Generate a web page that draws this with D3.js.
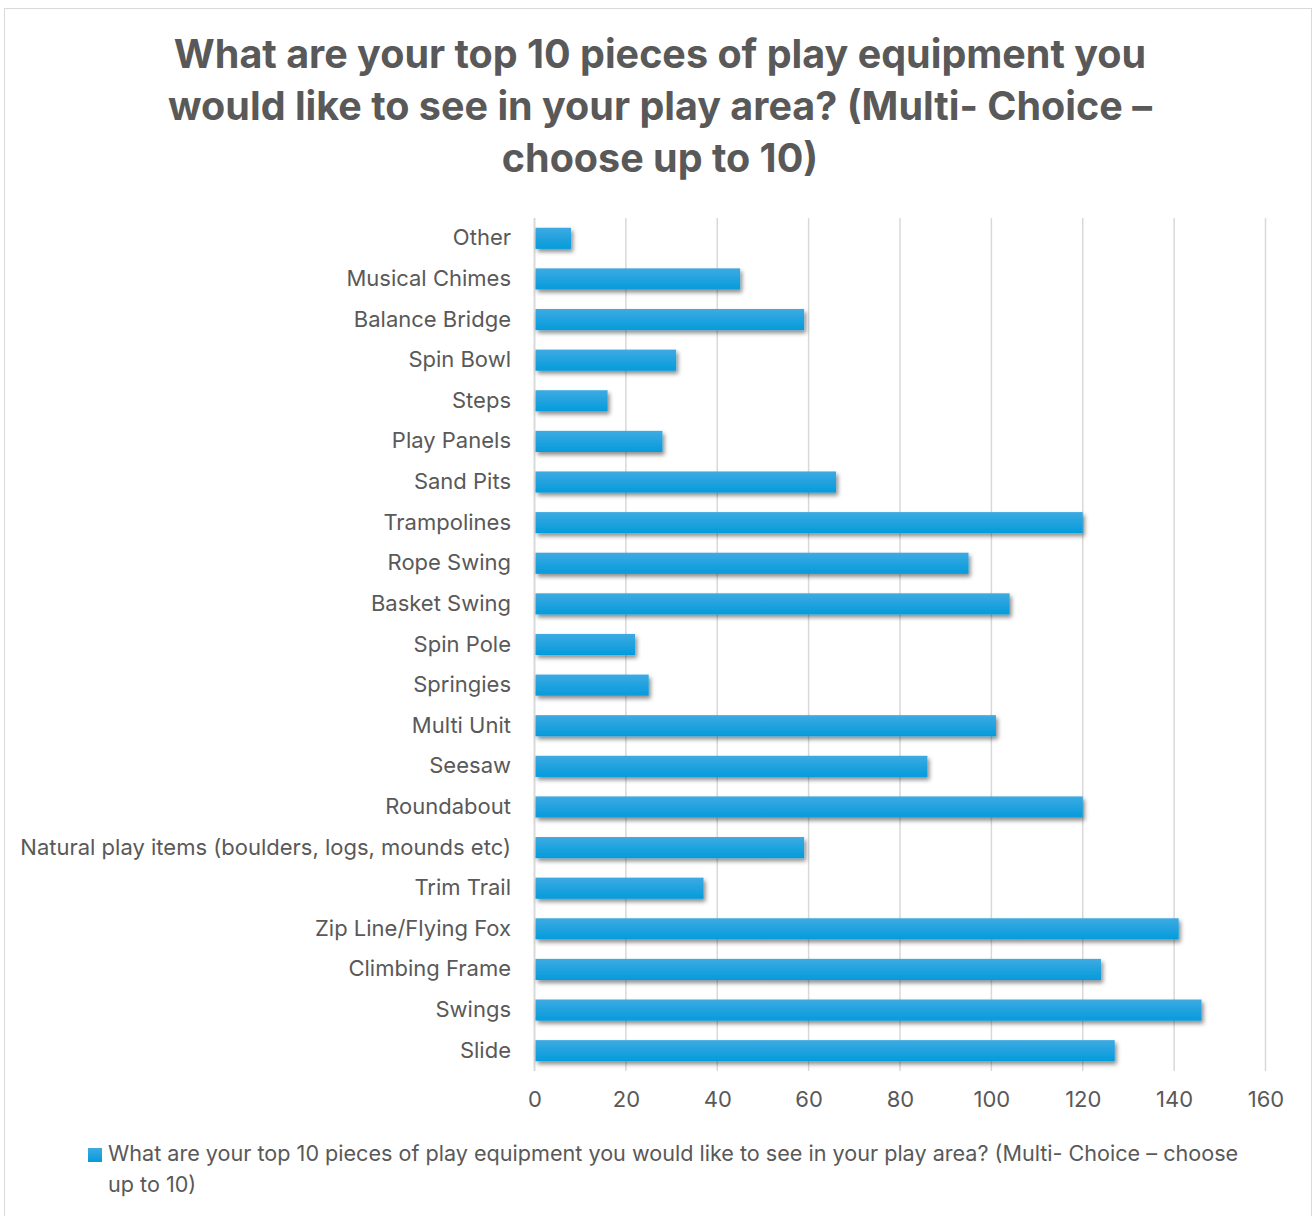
<!DOCTYPE html>
<html><head><meta charset="utf-8">
<script src="https://cdn.jsdelivr.net/npm/d3@7"></script>
<style>body{margin:0;background:#fff;} svg{display:block;}</style>
</head><body>
<svg id="c" width="1314" height="1216"></svg>
<script>
const categories = ["Other","Musical Chimes","Balance Bridge","Spin Bowl","Steps","Play Panels","Sand Pits","Trampolines","Rope Swing","Basket Swing","Spin Pole","Springies","Multi Unit","Seesaw","Roundabout","Natural play items (boulders, logs, mounds etc)","Trim Trail","Zip Line/Flying Fox","Climbing Frame","Swings","Slide"];
const values = [8,45,59,31,16,28,66,120,95,104,22,25,101,86,120,59,37,141,124,146,127];
const xTicks = [0,20,40,60,80,100,120,140,160];
const titleLines = ["What are your top 10 pieces of play equipment you","would like to see in your play area? (Multi- Choice \u2013","choose up to 10)"];
const legendLines = ["What are your top 10 pieces of play equipment you would like to see in your play area? (Multi- Choice \u2013 choose","up to 10)"];

const font = "Inter, 'Open Sans', sans-serif";
const svg = d3.select("#c");
const defs = svg.append("defs");
const g1 = defs.append("linearGradient").attr("id","bg").attr("x1",0).attr("y1",0).attr("x2",0).attr("y2",1);
g1.append("stop").attr("offset","0%").attr("stop-color","#3eaae2");
g1.append("stop").attr("offset","100%").attr("stop-color","#049bdb");
const f = defs.append("filter").attr("id","sh").attr("x","-10%").attr("y","-50%").attr("width","130%").attr("height","250%");
f.append("feDropShadow").attr("dx",2).attr("dy",3).attr("stdDeviation",2.2).attr("flood-color","#000").attr("flood-opacity",0.45);

svg.append("rect").attr("x",4.5).attr("y",8.5).attr("width",1307).attr("height",1215).attr("fill","#fff").attr("stroke","#d9d9d9");

const x = d3.scaleLinear().domain([0,160]).range([534.5,1265.5]);
const y = d3.scaleBand().domain(categories).range([218,1071]).paddingInner(0.48).paddingOuter(0.24);

svg.append("g").selectAll("line").data(xTicks).join("line")
  .attr("x1",d=>x(d)).attr("x2",d=>x(d)).attr("y1",218).attr("y2",1071)
  .attr("stroke","#d9d9d9").attr("stroke-width",d=>d===0?2:1.5);

svg.append("g").selectAll("rect").data(values).join("rect")
  .attr("x",x(0)+1).attr("y",(d,i)=>y(categories[i]))
  .attr("width",d=>x(d)-x(0)-1).attr("height",y.bandwidth())
  .attr("fill","url(#bg)").attr("filter","url(#sh)");

const xa = svg.append("g").attr("transform","translate(0,1071)").call(d3.axisBottom(x).tickValues(xTicks).tickSize(0).tickPadding(20));
xa.select(".domain").remove();
xa.selectAll("text").attr("font-family",font).attr("font-size",22).attr("fill","#595959");

const ya = svg.append("g").attr("transform","translate(511,0)").call(d3.axisLeft(y).tickSize(0).tickPadding(0));
ya.select(".domain").remove();
ya.selectAll("text").attr("font-family",font).attr("font-size",22).attr("fill","#595959");

svg.append("g").selectAll("text").data(titleLines).join("text")
  .attr("x",660).attr("y",(d,i)=>68+i*52).attr("text-anchor","middle")
  .attr("font-family",font).attr("font-weight","bold").attr("font-size",39.5).attr("fill","#595959").text(d=>d);

svg.append("rect").attr("x",88).attr("y",1148).attr("width",14).attr("height",14).attr("fill","url(#bg)");
svg.append("g").selectAll("text").data(legendLines).join("text")
  .attr("x",108).attr("y",(d,i)=>1161+i*31)
  .attr("font-family",font).attr("font-size",21.6).attr("fill","#595959").text(d=>d);
</script>
</body></html>
